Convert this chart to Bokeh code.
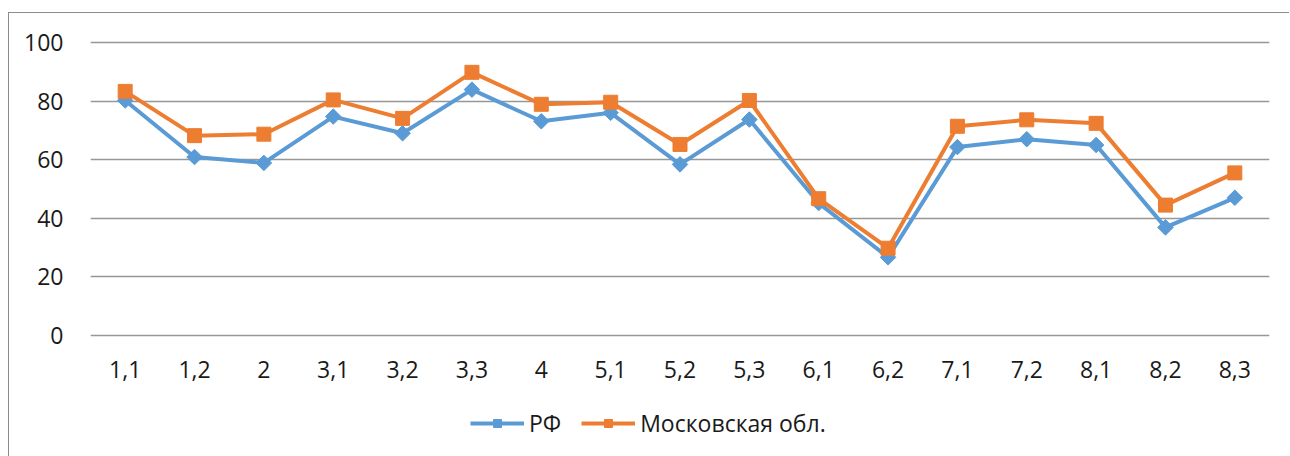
from bokeh.plotting import figure
from bokeh.layouts import column
from bokeh.models import FactorRange, Range1d, Legend, LegendItem, FixedTicker
from bokeh.embed import file_html
from bokeh.resources import INLINE
import numpy as np

categories = ["1,1", "1,2", "2", "3,1", "3,2", "3,3", "4", "5,1", "5,2", "5,3",
              "6,1", "6,2", "7,1", "7,2", "8,1", "8,2", "8,3"]
rf_values = [80.2, 60.9, 58.9, 74.7, 69.0, 83.9, 73.1, 76.0, 58.4, 73.7,
             45.2, 26.7, 64.3, 67.0, 65.0, 36.9, 47.0]
mo_values = [83.3, 68.2, 68.7, 80.4, 74.1, 89.8, 78.9, 79.6, 65.2, 80.2,
             46.7, 29.8, 71.4, 73.6, 72.4, 44.5, 55.5]
y_ticks = [0, 20, 40, 60, 80, 100]
series_names = ["РФ", "Московская обл."]

BLUE = "#5B9BD5"
ORANGE = "#ED7D31"
FONT = "Open Sans"
TXT = "#1a1a1a"

p = figure(width=1280, height=385, output_backend="svg", toolbar_location=None,
           x_range=FactorRange(*categories, range_padding=0),
           y_range=Range1d(-1, 101),
           min_border_left=81, min_border_right=20, min_border_top=26, min_border_bottom=60)
p.outline_line_color = None

p.line(categories, rf_values, line_color=BLUE, line_width=4)
p.scatter(categories, rf_values, marker="square", angle=np.pi / 4, size=11,
          fill_color=BLUE, line_color=BLUE)
p.line(categories, mo_values, line_color=ORANGE, line_width=4)
p.scatter(categories, mo_values, marker="square", size=14,
          fill_color=ORANGE, line_color=ORANGE)

p.xgrid.grid_line_color = None
p.ygrid.grid_line_color = "#979797"
p.ygrid.grid_line_width = 1.5
p.yaxis.ticker = FixedTicker(ticks=y_ticks)

for ax in (p.xaxis[0], p.yaxis[0]):
    ax.axis_line_color = None
    ax.major_tick_line_color = None
    ax.minor_tick_line_color = None
    ax.major_label_text_font = FONT
    ax.major_label_text_font_size = "23px"
    ax.major_label_text_color = TXT
p.yaxis.major_label_standoff = 21
p.xaxis.major_label_standoff = 16

# legend strip: key samples sit outside the visible range, only the legend shows
p2 = figure(width=1280, height=58, output_backend="svg", toolbar_location=None,
            x_range=Range1d(0, 1), y_range=Range1d(0, 1),
            x_axis_location=None, y_axis_location=None,
            min_border_left=0, min_border_right=0, min_border_top=0, min_border_bottom=0)
p2.outline_line_color = None
p2.grid.grid_line_color = None
key_x = [-5, -4]
key_y = [-5, -5]
k1 = p2.line(x=key_x, y=key_y, line_color=BLUE, line_width=4)
s1 = p2.scatter(x=key_x, y=key_y, marker="square", angle=np.pi / 4, size=11,
                fill_color=BLUE, line_color=BLUE)
k2 = p2.line(x=key_x, y=key_y, line_color=ORANGE, line_width=4)
s2 = p2.scatter(x=key_x, y=key_y, marker="square", size=14,
                fill_color=ORANGE, line_color=ORANGE)

legend = Legend(items=[LegendItem(label=series_names[0], renderers=[k1, s1]),
                       LegendItem(label=series_names[1], renderers=[k2, s2])],
                orientation="horizontal", location=(380, 17),
                label_text_font=FONT, label_text_font_size="23px", label_text_color=TXT,
                glyph_width=54, glyph_height=20, label_standoff=5, spacing=20,
                border_line_color=None, background_fill_alpha=0, margin=0, padding=4)
p2.add_layout(legend, "center")

layout = column(p, p2, spacing=0,
                styles={"border-left": "1px solid #8c8c8c", "border-top": "1px solid #8c8c8c"})
layout.margin = (12, 0, 0, 8)

open("out.html", "w").write(file_html(layout, INLINE))
